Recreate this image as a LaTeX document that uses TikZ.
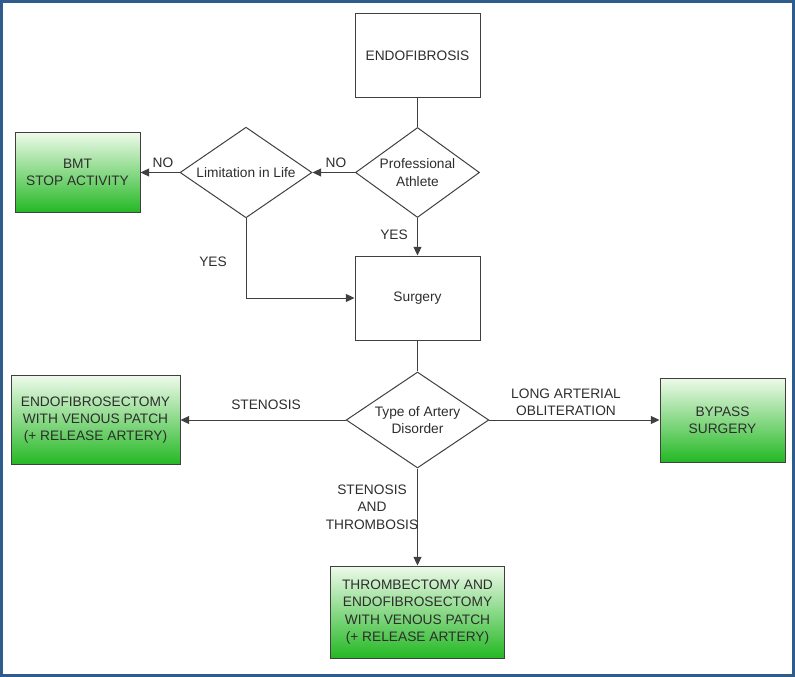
\documentclass[tikz,border=0pt]{standalone}
\usepackage{fontspec}
\setmainfont{Liberation Sans}
\usetikzlibrary{shapes.geometric,arrows.meta}

\definecolor{frameblue}{RGB}{47,92,140}
\definecolor{linegray}{RGB}{64,64,64}
\definecolor{textgray}{RGB}{45,45,45}
\definecolor{boxtop}{RGB}{238,250,234}
\definecolor{boxbottom}{RGB}{36,184,36}

\tikzset{every picture/.style={line width=0.75pt}}
\tikzset{
  plainbox/.style={draw=linegray, fill=white, minimum width=93.75pt, minimum height=63pt, inner sep=0pt, align=center, text=textgray},
  greenbox/.style={draw=linegray, top color=boxtop, bottom color=boxbottom, inner sep=0pt, align=center, text=textgray},
  decision/.style={draw=linegray, fill=white, diamond, inner sep=0pt, align=center, text=textgray},
  lbl/.style={align=center, text=textgray, inner sep=0pt},
  flow/.style={draw=linegray, -{Triangle[length=6.5pt,width=6pt]}}
}

\begin{document}
\begin{tikzpicture}[x=0.75pt,y=0.75pt,yscale=-1,xscale=1,font=\fontsize{10.3}{13}\selectfont]
\useasboundingbox (0,0) rectangle (795,677);

%Shape: Frame
\draw [frameblue, line width=2.25pt] (1.5,1.5) rectangle (793.5,675.5);

%Shape: Rectangle
\node [plainbox] (endo) at (417.5,56) {ENDOFIBROSIS};
%Shape: Diamond
\node [decision, aspect=1.38, minimum width=93pt, minimum height=67.5pt] (athlete) at (417.5,172.5) {Professional\\Athlete};
%Shape: Diamond
\node [decision, aspect=1.46, minimum width=99pt, minimum height=68pt] (limit) at (246,172.5) {Limitation in Life};
%Shape: Rectangle
\node [greenbox, minimum width=93.75pt, minimum height=60pt] (bmt) at (77.5,172.5) {BMT\\STOP ACTIVITY};
%Shape: Rectangle
\node [plainbox] (surgery) at (417.5,298) {Surgery};
%Shape: Diamond
\node [decision, aspect=1.49, minimum width=107pt, minimum height=72pt] (artery) at (417.5,420) {Type of Artery\\Disorder};
%Shape: Rectangle
\node [greenbox, minimum width=126.75pt, minimum height=66.75pt] (patch) at (95.5,420) {ENDOFIBROSECTOMY\\WITH VENOUS PATCH\\(+ RELEASE ARTERY)};
%Shape: Rectangle
\node [greenbox, minimum width=93.75pt, minimum height=63pt] (bypass) at (722.5,420) {BYPASS\\SURGERY};
%Shape: Rectangle
\node [greenbox, minimum width=130.5pt, minimum height=69pt] (thromb) at (417.5,612) {THROMBECTOMY AND\\ENDOFIBROSECTOMY\\WITH VENOUS PATCH\\(+ RELEASE ARTERY)};

%Straight Lines
\draw [linegray] (endo) -- (athlete);
\draw [flow] (athlete) -- (limit);
\draw [flow] (limit) -- (bmt);
\draw [flow] (athlete) -- (surgery);
\draw [flow] (limit.south) |- (surgery.west);
\draw [linegray] (surgery) -- (artery);
\draw [flow] (artery) -- (patch);
\draw [flow] (artery) -- (bypass);
\draw [flow] (artery) -- (thromb);

% Text Node
\node [lbl] (no1) at (336,163) {NO};
% Text Node
\node [lbl] (no2) at (163,163) {NO};
% Text Node
\node [lbl] (yes1) at (394,235) {YES};
% Text Node
\node [lbl] (yes2) at (213,262) {YES};
% Text Node
\node [lbl] (sten) at (266,405) {STENOSIS};
% Text Node
\node [lbl] (long) at (566,402) {LONG ARTERIAL\\OBLITERATION};
% Text Node
\node [lbl] (stenthr) at (372,507) {STENOSIS\\AND\\THROMBOSIS};

\end{tikzpicture}
\end{document}
